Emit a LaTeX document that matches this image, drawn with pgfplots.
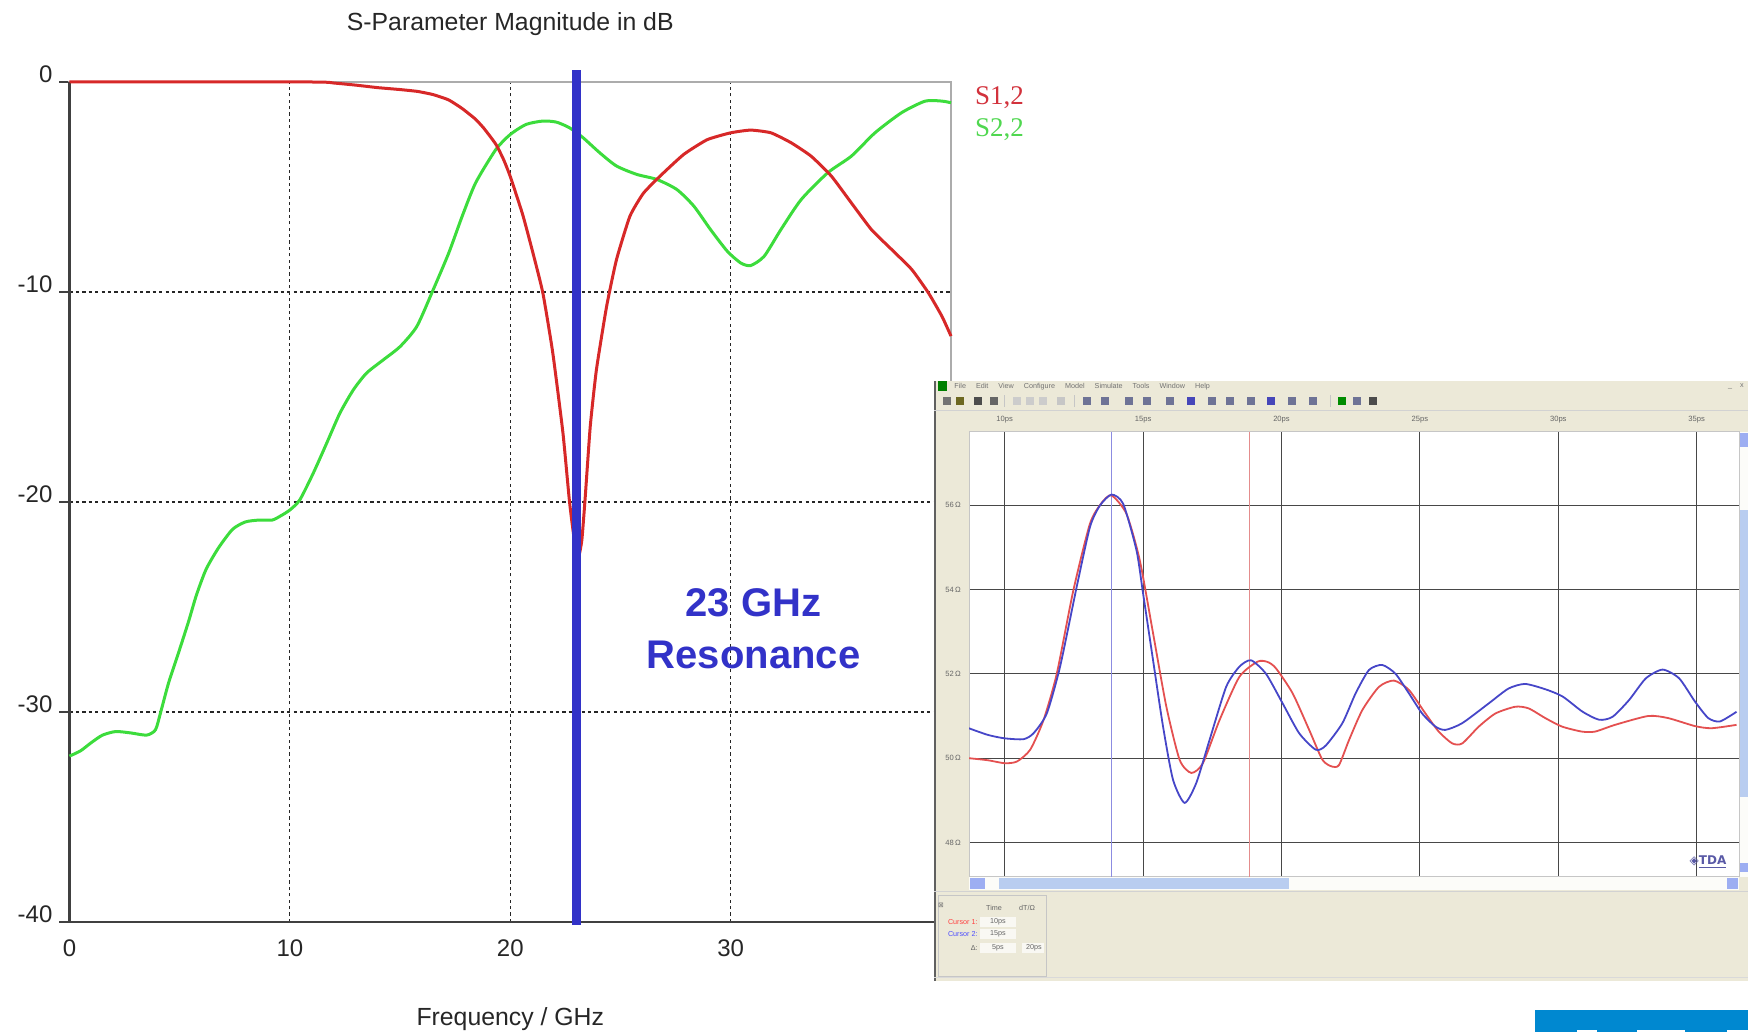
\documentclass[border=0pt]{standalone}
\usepackage{pgfplots}
\pgfplotsset{compat=1.18}
\usepackage{fontspec}
\setmainfont{Liberation Sans}
\newfontfamily\serifL{Liberation Serif}
\newfontfamily\dejavu{DejaVu Sans}
\definecolor{sred}{RGB}{215,40,40}
\definecolor{sgreen}{RGB}{60,220,60}
\definecolor{resblue}{RGB}{50,50,200}
\definecolor{legred}{RGB}{210,50,60}
\definecolor{leggreen}{RGB}{80,215,80}
\definecolor{winbg}{RGB}{236,233,216}
\definecolor{sbblue}{RGB}{185,205,240}
\definecolor{tdrblue}{RGB}{70,70,200}
\definecolor{tdrred}{RGB}{228,80,80}
\definecolor{curblue}{RGB}{140,140,225}
\definecolor{curred}{RGB}{228,140,140}
\definecolor{barblue}{RGB}{0,136,208}
\definecolor{icon}{RGB}{110,115,150}
\begin{document}
\begin{tikzpicture}
\useasboundingbox (0,0) rectangle (874pt,516pt);
% ---------------- main S-parameter chart ----------------
\begin{axis}[
  at={(34.75pt,55pt)}, anchor=south west,
  scale only axis, width=440.75pt, height=420pt,
  xmin=0, xmax=40, ymin=-40, ymax=0,
  clip=false,
  xtick={0,10,20,30}, xticklabels={0,10,20,30},
  ytick={-40,-30,-20,-10,0}, yticklabels={-40,-30,-20,-10,0},
  xtick pos=bottom, ytick pos=left,
  tick align=outside, major tick length=5pt,
  x tick style={draw=none},
  y tick style={black!75, line width=0.9pt},
  grid=major,
  major grid style={black!85, line width=0.6pt, dash pattern=on 1.6pt off 1.6pt},
  axis line style={gray!65, line width=1.1pt},
  ticklabel style={font=\fontsize{12}{14}\selectfont, text=black!85},
  yticklabel style={yshift=3.9pt},
  xticklabel style={anchor=center, yshift=-8.35pt},
  title={S-Parameter Magnitude in dB},
  title style={font=\fontsize{12.4}{14}\selectfont, text=black!85, at={(axis description cs:0.5,1)}, anchor=center, yshift=22.8pt},
  xlabel={Frequency / GHz},
  xlabel style={font=\fontsize{12.4}{14}\selectfont, text=black!85, at={(axis description cs:0.5,0)}, anchor=center, yshift=-48.4pt},
]
\draw[black!75, line width=1.1pt] (rel axis cs:0,1) -- (rel axis cs:0,0) -- (rel axis cs:1,0);
% S2,2
\addplot[sgreen, line width=1.5pt, smooth, tension=0.4] coordinates {
(0,-32.1) (0.5,-31.85) (1,-31.45) (1.5,-31.1) (2.1,-30.93) (2.8,-31.0) (3.5,-31.1) (3.9,-30.85)
(4.14,-30.0) (4.5,-28.6) (4.95,-27.17) (5.4,-25.7) (5.76,-24.43) (6.2,-23.2) (6.77,-22.17)
(7.4,-21.3) (7.98,-20.95) (8.6,-20.86) (9.2,-20.86) (9.6,-20.65) (10.0,-20.38) (10.45,-19.9)
(11.06,-18.63) (11.67,-17.2) (12.27,-15.77) (12.88,-14.66) (13.48,-13.86) (14.24,-13.23)
(15.0,-12.6) (15.76,-11.64) (16.5,-9.9) (17.21,-8.14) (17.82,-6.39) (18.43,-4.8) (19.35,-3.21)
(20,-2.5) (20.72,-2.02) (21.48,-1.86) (22.09,-1.91) (22.69,-2.18) (23.3,-2.65) (24.06,-3.37)
(24.82,-4.0) (25.74,-4.4) (26.65,-4.64) (27.56,-5.12) (28.33,-5.91) (29.09,-7.03) (29.85,-8.06)
(30.46,-8.62) (30.91,-8.74) (31.52,-8.3) (32.28,-7.03) (33.2,-5.6) (34.41,-4.32) (35.48,-3.53)
(36.55,-2.42) (37.76,-1.46) (38.83,-0.91) (39.59,-0.91) (40,-0.99)
};
% S1,2
\addplot[sred, line width=1.5pt, smooth, tension=0.3] coordinates {
(0,0) (11,0) (12,-0.05) (13,-0.15) (14,-0.27) (15,-0.36) (15.8,-0.45) (16.5,-0.6) (17.2,-0.85)
(17.8,-1.25) (18.4,-1.75) (18.8,-2.2) (19.35,-2.97) (19.7,-3.7) (20,-4.5) (20.56,-6.3)
(21.02,-8.1) (21.48,-10.05) (21.93,-12.9) (22.39,-16.7) (22.69,-20.0) (22.92,-21.9) (23.1,-22.6)
(23.25,-21.8) (23.4,-19.8) (23.63,-16.4) (23.91,-13.7) (24.37,-10.7) (24.82,-8.46) (25.43,-6.39)
(26.04,-5.3) (26.8,-4.48) (27.87,-3.45) (28.93,-2.75) (30,-2.42) (30.91,-2.29) (31.83,-2.42)
(32.74,-2.89) (33.65,-3.53) (34.57,-4.48) (35.48,-5.76) (36.39,-7.03) (37.31,-7.98) (38.22,-8.93)
(38.98,-10.05) (39.59,-11.16) (40,-12.1)
};
% resonance marker
\addplot[resblue, line width=4.5pt] coordinates {(23,0.57) (23,-40.16)};
\node[anchor=base, text=resblue, font=\bfseries\fontsize{20}{24}\selectfont] at (axis cs:31.04,-25.43) {23 GHz};
\node[anchor=base, text=resblue, font=\bfseries\fontsize{20}{24}\selectfont] at (axis cs:31.04,-27.93) {Resonance};
\node[anchor=center, text=legred, font=\serifL\fontsize{13.5}{15}\selectfont] at (axis cs:42.2,-0.76) {S1,2};
\node[anchor=center, text=leggreen, font=\serifL\fontsize{13.5}{15}\selectfont] at (axis cs:42.2,-2.29) {S2,2};
\end{axis}
% ---------------- TDR window inset ----------------
\fill[winbg] (467pt,25.5pt) rectangle (874pt,325.5pt);
\draw[gray!75!black, line width=1.2pt] (467.6pt,25.5pt) -- (467.6pt,325.5pt);
\fill[green!50!black] (469pt,320.5pt) rectangle (473.5pt,325.5pt);
\node[anchor=west, inner sep=0pt, text=black!55, font=\fontsize{3.6}{4}\selectfont] at (477pt,322.6pt)
  {File\hspace{5pt}Edit\hspace{5pt}View\hspace{5pt}Configure\hspace{5pt}Model\hspace{5pt}Simulate\hspace{5pt}Tools\hspace{5pt}Window\hspace{5pt}Help};
\node[anchor=east, inner sep=0pt, text=black!55, font=\fontsize{3.6}{4}\selectfont] at (872pt,322.6pt) {\_\hspace{4pt}x};
% toolbar
\foreach \x/\c in {473.5/black!55, 480/olive!70!black, 489/black!70, 497/black!60, 508.5/gray!40, 515/gray!40, 521.5/gray!40, 530.5/gray!45,
  543.5/icon, 552.5/icon, 564.5/icon, 573.5/icon, 585/icon, 595.5/blue!45!gray, 606/icon,
  615/icon, 625.5/icon, 635.5/blue!45!gray, 646/icon, 656.5/icon, 671/green!55!black, 678.5/icon, 686.5/black!70}
  {\fill[\c] (\x pt-2pt,313.5pt) rectangle (\x pt+2pt,317.5pt);}
\foreach \x in {502,537,665} {\draw[gray!45, line width=0.4pt] (\x pt,312.5pt) -- (\x pt,318.5pt);}
\draw[gray!35, line width=0.5pt] (467pt,310.5pt) -- (874pt,310.5pt);
\begin{axis}[
  at={(484.5pt,77.65pt)}, anchor=south west,
  scale only axis, width=385pt, height=222.5pt,
  xmin=8.71, xmax=36.53, ymin=47.19, ymax=57.74,
  axis background/.style={fill=white},
  xtick={10,15,...,35}, xticklabels={10ps,15ps,20ps,25ps,30ps,35ps},
  ytick={48,50,...,56}, yticklabels={48\,Ω,50\,Ω,52\,Ω,54\,Ω,56\,Ω},
  xticklabel pos=upper,
  major tick length=0pt,
  grid=major, major grid style={black!72, line width=0.55pt},
  axis line style={gray!45, line width=0.5pt},
  ticklabel style={font=\fontsize{3.8}{4}\selectfont, text=black!60},
  xticklabel style={anchor=center, yshift=5.85pt},
  yticklabel style={anchor=center, xshift=-8pt},
]
\addplot[curblue, line width=0.5pt] coordinates {(13.86,47.19) (13.86,57.74)};
\addplot[curred, line width=0.5pt] coordinates {(18.84,47.19) (18.84,57.74)};
\addplot[tdrred, line width=0.9pt, smooth, tension=0.4] coordinates {
(8.7,50.0) (9.4,49.95) (10,49.88) (10.44,49.92) (10.92,50.2) (11.4,50.9) (11.88,52.0) (12.48,53.98)
(13.08,55.56) (13.5,56.05) (13.86,56.23) (14.4,55.79) (14.88,54.69) (15.36,52.96) (15.84,51.22)
(16.32,49.96) (16.74,49.65) (17.16,49.88) (17.76,50.9) (18.48,51.93) (19.14,52.29) (19.5,52.28)
(19.8,52.13) (20.4,51.54) (21.0,50.67) (21.48,49.96) (21.83,49.8) (22.08,49.84) (22.44,50.43)
(22.92,51.14) (23.52,51.69) (24.06,51.84) (24.6,51.62) (25.2,51.06) (25.68,50.63) (26.17,50.35)
(26.53,50.35) (27.13,50.75) (27.73,51.06) (28.45,51.22) (28.93,51.18) (29.53,50.95) (30.13,50.75)
(30.85,50.63) (31.33,50.63) (32.05,50.79) (33.25,51.0) (33.97,50.95) (34.94,50.76) (35.54,50.71) (36.44,50.79)
};
\addplot[tdrblue, line width=0.9pt, smooth, tension=0.4] coordinates {
(8.7,50.71) (9.4,50.55) (10,50.47) (10.68,50.45) (11.04,50.59) (11.52,51.06) (12.0,52.17) (12.6,54.06)
(13.08,55.48) (13.44,55.99) (13.86,56.25) (14.28,56.03) (14.76,54.93) (15.0,53.9) (15.36,52.32)
(15.72,50.75) (16.08,49.49) (16.5,48.94) (16.92,49.41) (17.4,50.43) (18.0,51.69) (18.48,52.17)
(18.9,52.32) (19.44,52.0) (20.04,51.3) (20.64,50.59) (21.24,50.2) (21.6,50.3) (22.2,50.83)
(22.68,51.54) (23.16,52.09) (23.64,52.21) (24.12,52.0) (24.6,51.54) (25.08,51.06) (25.56,50.75)
(25.92,50.67) (26.53,50.83) (27.49,51.3) (28.2,51.65) (28.8,51.76) (29.55,51.63) (30.16,51.46)
(30.88,51.1) (31.48,50.91) (31.96,50.98) (32.56,51.38) (33.16,51.89) (33.77,52.1) (34.37,51.89)
(34.94,51.34) (35.42,50.95) (35.84,50.87) (36.44,51.1)
};
\end{axis}
% scrollbars
\fill[white!85!winbg] (484.5pt,71pt) rectangle (869.5pt,77.4pt);
\fill[sbblue] (499.5pt,71.5pt) rectangle (644.5pt,77pt);
\fill[sbblue!85!blue] (485pt,71.5pt) rectangle (492.5pt,77pt);
\fill[sbblue!85!blue] (863.5pt,71.5pt) rectangle (869pt,77pt);
\fill[white!85!winbg] (870pt,77.65pt) rectangle (874pt,300.15pt);
\fill[sbblue] (870pt,117.5pt) rectangle (874pt,261pt);
\fill[sbblue!85!blue] (870pt,292.5pt) rectangle (874pt,299.5pt);
\fill[sbblue!85!blue] (870pt,80pt) rectangle (874pt,84.5pt);
\node[inner sep=0pt, text=blue!30!gray, font=\dejavu\bfseries\fontsize{6}{7}\selectfont] at (854pt,85pt) {◈\underline{TDA}};
% bottom panel
\draw[gray!35, line width=0.5pt] (467pt,70pt) -- (874pt,70pt);
\draw[gray!45, line width=0.5pt] (469pt,28pt) rectangle (523pt,68pt);
\draw[gray!30, line width=0.5pt] (467pt,27.5pt) -- (874pt,27.5pt);
\node[inner sep=0pt, text=black!55, font=\dejavu\fontsize{3.4}{4}\selectfont] at (470.5pt,63.5pt) {⊠};
\node[inner sep=0pt, text=black!60, font=\fontsize{3.6}{4}\selectfont] at (497pt,62pt) {Time};
\node[inner sep=0pt, text=black!60, font=\fontsize{3.6}{4}\selectfont] at (513.5pt,62pt) {dT/Ω};
\node[anchor=east, inner sep=0pt, text=red!75, font=\fontsize{3.6}{4}\selectfont] at (489pt,55pt) {Cursor 1:};
\node[anchor=east, inner sep=0pt, text=blue!70, font=\fontsize{3.6}{4}\selectfont] at (489pt,49pt) {Cursor 2:};
\node[anchor=east, inner sep=0pt, text=black!60, font=\fontsize{3.6}{4}\selectfont] at (489pt,42pt) {Δ:};
\foreach \y in {55,49,42} {\fill[white!70!winbg] (490pt,\y pt-2.5pt) rectangle (508pt,\y pt+2.5pt);}
\fill[white!70!winbg] (511pt,39.5pt) rectangle (522pt,44.5pt);
\node[inner sep=0pt, text=black!60, font=\fontsize{3.6}{4}\selectfont] at (499pt,55pt) {10ps};
\node[inner sep=0pt, text=black!60, font=\fontsize{3.6}{4}\selectfont] at (499pt,49pt) {15ps};
\node[inner sep=0pt, text=black!60, font=\fontsize{3.6}{4}\selectfont] at (499pt,42pt) {5ps};
\node[inner sep=0pt, text=black!60, font=\fontsize{3.6}{4}\selectfont] at (517pt,42pt) {20ps};
% blue bar bottom right
\fill[barblue] (767.5pt,0pt) rectangle (874pt,11pt);
\fill[white] (788.5pt,0pt) rectangle (798.5pt,1pt);
\fill[white] (818.5pt,0pt) rectangle (842.5pt,1pt);
\fill[white] (863.5pt,0pt) rectangle (874pt,1pt);
\end{tikzpicture}
\end{document}
